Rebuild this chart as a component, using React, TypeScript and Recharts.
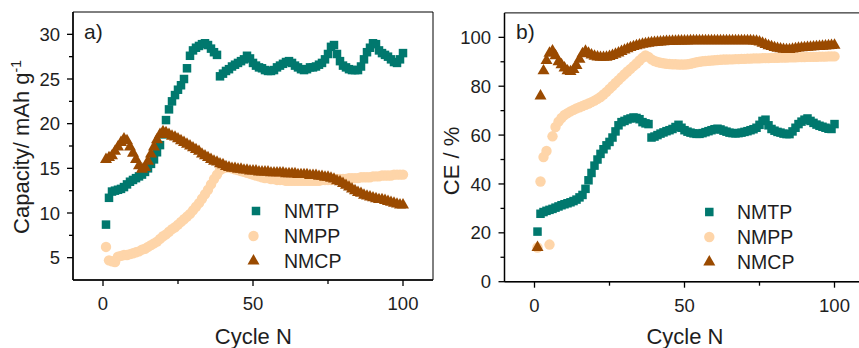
import React from 'react';
import { ScatterChart, Scatter, XAxis, YAxis, ReferenceArea } from 'recharts';

const cycles: number[] = Array.from({ length: 100 }, (_, i) => i + 1);

// Panel a) Capacity / mAh g-1
const capNMTP = [
  8.7, 11.7, 12.4, 12.5, 12.6, 12.7, 12.9, 13.2, 13.5, 13.7,
  13.9, 14.1, 14.3, 14.6, 15.0, 15.5, 16.0, 16.8, 17.6, 18.8,
  20.4, 21.6, 22.5, 23.2, 23.8, 24.3, 25.0, 26.2, 27.6, 28.2,
  28.5, 28.7, 28.9, 29.0, 28.8, 28.4, 28.0, 27.7, 25.3, 25.6,
  25.9, 26.1, 26.4, 26.6, 26.8, 27.0, 27.2, 27.6, 27.3, 26.8,
  26.5, 26.3, 26.2, 26.0, 25.9, 25.9, 26.0, 26.3, 26.5, 26.7,
  26.9, 27.0, 26.8, 26.5, 26.3, 26.1, 26.0, 26.1, 26.3, 26.3,
  26.4, 26.6, 26.8, 27.2, 27.8, 28.6, 28.8, 27.8, 27.0, 26.5,
  26.3, 26.1, 26.0, 26.0, 26.0, 26.4, 27.2, 28.0, 28.5, 29.0,
  28.9, 28.2, 27.9, 27.7, 27.5, 27.2, 26.9, 26.8, 27.2, 27.9,
];
const capNMPP = [
  6.2, 4.7, 4.6, 4.5, 5.1, 5.2, 5.3, 5.3, 5.4, 5.5,
  5.6, 5.7, 5.9, 6.0, 6.2, 6.4, 6.6, 6.8, 7.1, 7.4,
  7.6, 7.9, 8.2, 8.4, 8.7, 9.0, 9.3, 9.6, 9.9, 10.3,
  10.7, 11.1, 11.6, 12.1, 12.6, 13.2, 13.8, 14.3, 14.8, 15.0,
  15.1, 15.1, 15.0, 14.9, 14.8, 14.7, 14.6, 14.5, 14.4, 14.3,
  14.2, 14.1, 14.0, 13.9, 13.9, 13.8, 13.8, 13.7, 13.7, 13.7,
  13.6, 13.6, 13.6, 13.6, 13.6, 13.6, 13.6, 13.6, 13.6, 13.6,
  13.6, 13.6, 13.7, 13.7, 13.7, 13.7, 13.8, 13.8, 13.8, 13.8,
  13.8, 13.9, 13.9, 13.9, 13.9, 14.0, 14.0, 14.0, 14.0, 14.1,
  14.1, 14.1, 14.2, 14.2, 14.2, 14.2, 14.3, 14.3, 14.3, 14.3,
];
const capNMCP = [
  16.0, 16.2, 16.4, 16.9, 17.4, 17.9, 18.3, 18.1, 17.4, 16.7,
  16.0, 15.3, 14.9, 15.1, 15.8, 16.6, 17.4, 18.2, 18.8, 19.1,
  19.0, 18.8, 18.6, 18.5, 18.3, 18.1, 17.9, 17.7, 17.5, 17.3,
  17.1, 16.9, 16.6, 16.4, 16.2, 16.0, 15.8, 15.7, 15.5, 15.4,
  15.2, 15.1, 15.0, 15.0, 14.9, 14.9, 14.8, 14.8, 14.7, 14.7,
  14.7, 14.6, 14.6, 14.6, 14.6, 14.5, 14.5, 14.5, 14.5, 14.5,
  14.4, 14.4, 14.4, 14.4, 14.3, 14.3, 14.3, 14.3, 14.2, 14.2,
  14.2, 14.1, 14.1, 14.0, 14.0, 13.9, 13.8, 13.6, 13.5, 13.3,
  13.1, 12.9, 12.7, 12.5, 12.3, 12.2, 12.0, 11.9, 11.8, 11.7,
  11.6, 11.5, 11.5, 11.4, 11.3, 11.2, 11.1, 11.0, 10.9, 10.9,
];

// Panel b) CE / %
const ceNMTP = [
  20.5, 27.8, 28.5, 29.0, 29.4, 29.8, 30.3, 30.8, 31.3, 31.7,
  32.1, 32.5, 33.0, 33.6, 34.5, 35.5, 38.0, 41.5, 44.5, 47.5,
  50.0, 52.3, 54.2, 55.8, 57.2, 59.0, 61.5, 64.0, 65.3, 65.8,
  66.4, 66.8, 67.2, 67.0, 66.5, 65.3, 64.8, 64.5, 59.0, 59.4,
  60.0, 60.6, 61.1, 61.6, 62.0, 62.5, 63.3, 64.2, 63.0, 62.0,
  61.4, 61.0, 60.7, 60.5, 60.5, 60.8, 61.2, 61.6, 62.0, 62.4,
  62.6, 62.3, 61.8, 61.4, 61.0, 60.8, 60.7, 60.8, 61.0, 61.3,
  61.6, 62.0, 62.4, 63.0, 64.2, 65.8, 66.3, 64.0, 62.5, 61.8,
  61.3, 61.0, 60.6, 60.4, 60.4, 61.5, 63.0, 64.5, 65.5, 66.3,
  66.8, 65.8, 65.0, 64.3, 63.8, 63.4, 63.0, 62.6, 62.5, 64.5,
];
const ceNMPP = [
  14.0, 41.0, 51.0, 53.5, 15.2, 59.5, 63.3, 65.5, 67.0, 68.2,
  69.0, 69.7, 70.3, 70.9, 71.4, 71.9, 72.4, 72.9, 73.5, 74.1,
  74.8, 75.6, 76.6, 77.7, 78.9, 80.1, 81.3, 82.5, 83.7, 84.9,
  86.0, 87.1, 88.2, 89.3, 90.5, 91.7, 92.6, 92.0, 91.0, 90.3,
  89.9, 89.6, 89.4, 89.2, 89.1, 89.0, 89.0, 88.9, 88.9, 88.9,
  89.0, 89.2, 89.5, 89.8, 90.0, 90.2, 90.3, 90.4, 90.5, 90.6,
  90.7, 90.8, 90.9, 90.9, 91.0, 91.0, 91.1, 91.1, 91.2, 91.2,
  91.3, 91.3, 91.4, 91.4, 91.4, 91.5, 91.5, 91.5, 91.6, 91.6,
  91.6, 91.7, 91.7, 91.7, 91.8, 91.8, 91.8, 91.9, 91.9, 91.9,
  92.0, 92.0, 92.0, 92.0, 92.1, 92.1, 92.1, 92.2, 92.2, 92.2,
];
const ceNMCP = [
  14.0, 76.0, 86.3, 90.5, 93.5, 94.5, 92.5, 90.0, 88.8, 87.5,
  86.3, 86.0, 86.8, 88.5, 91.0, 93.3, 94.3, 93.5, 92.8, 92.3,
  92.0, 91.8, 91.8, 91.9, 92.2, 92.6, 93.1, 93.6, 94.2, 94.8,
  95.3, 95.8, 96.2, 96.6, 96.9, 97.2, 97.4, 97.6, 97.8, 97.9,
  98.0, 98.1, 98.2, 98.3, 98.3, 98.4, 98.4, 98.5, 98.5, 98.5,
  98.5, 98.6, 98.6, 98.6, 98.6, 98.6, 98.6, 98.6, 98.6, 98.6,
  98.6, 98.6, 98.6, 98.6, 98.6, 98.6, 98.6, 98.6, 98.6, 98.6,
  98.6, 98.6, 98.5, 98.4, 98.1, 97.6, 97.1, 96.6, 96.2, 95.8,
  95.5, 95.3, 95.1, 95.0, 95.0, 95.2, 95.4, 95.6, 95.7, 95.8,
  95.9, 96.0, 96.1, 96.2, 96.3, 96.4, 96.5, 96.6, 96.7, 96.8,
];

const seriesNames = ['NMTP', 'NMPP', 'NMCP'];
const xTicks = [0, 25, 50, 75, 100];
const xMajor = [0, 50, 100];
const capYTicks = [5, 7.5, 10, 12.5, 15, 17.5, 20, 22.5, 25, 27.5, 30];
const capYMajor = [5, 10, 15, 20, 25, 30];
const ceYTicks = [0, 10, 20, 30, 40, 50, 60, 70, 80, 90, 100];
const ceYMajor = [0, 20, 40, 60, 80, 100];

const TEAL = '#00786E';
const PEACH = '#FED5A9';
const BROWN = '#9A4A00';
const TXT = '#1e1e1e';
const FONT = '"Liberation Sans", Arial, Helvetica, sans-serif';

const toPoints = (vals: number[]) => vals.map((v, i) => ({ x: cycles[i], y: v }));

const SquareShape = (p: any) => (
  <rect x={p.cx - 4.25} y={p.cy - 4.25} width={8.5} height={8.5} fill={TEAL} />
);
const CircleShape = (p: any) => <circle cx={p.cx} cy={p.cy} r={5.2} fill={PEACH} />;
const TriShape = (p: any) => (
  <polygon
    points={`${p.cx},${p.cy - 6.9} ${p.cx - 6},${p.cy + 3.5} ${p.cx + 6},${p.cy + 3.5}`}
    fill={BROWN}
  />
);

const makeXTick = (majors: number[]) => (props: any) => {
  const { x, y, payload } = props;
  const major = majors.includes(payload.value);
  return (
    <g>
      <line x1={x} x2={x} y1={y} y2={y + (major ? 6 : 4)} stroke="#000" strokeWidth={1.3} />
      {major && (
        <text x={x} y={y + 30} textAnchor="middle" fontSize={18.5} fontFamily={FONT} fill={TXT}>
          {payload.value}
        </text>
      )}
    </g>
  );
};

const makeYTick = (majors: number[], gap: number) => (props: any) => {
  const { x, y, payload } = props;
  const major = majors.includes(payload.value);
  return (
    <g>
      <line x1={x - (major ? 6 : 4)} x2={x} y1={y} y2={y} stroke="#000" strokeWidth={1.3} />
      {major && (
        <text x={x - gap} y={y} dy="0.355em" textAnchor="end" fontSize={18.5} fontFamily={FONT} fill={TXT}>
          {payload.value}
        </text>
      )}
    </g>
  );
};

const axisLine = { stroke: '#000', strokeWidth: 1.5 };

const LegendBlock = ({ mx, tx, rows }: { mx: number[]; tx: number; rows: number[] }) => (
  <g fontFamily={FONT} fontSize={19.5} fill={TXT}>
    <rect x={mx[0] - 4.25} y={rows[0] - 4.25} width={8.5} height={8.5} fill={TEAL} />
    <circle cx={mx[1]} cy={rows[1]} r={5.2} fill={PEACH} />
    <polygon
      points={`${mx[2]},${rows[2] - 6.9} ${mx[2] - 6},${rows[2] + 3.5} ${mx[2] + 6},${rows[2] + 3.5}`}
      fill={BROWN}
    />
    {seriesNames.map((n, i) => (
      <text key={n} x={tx} y={rows[i] + 7} fill={TXT}>
        {n}
      </text>
    ))}
  </g>
);

export default function App() {
  return (
    <div
      style={{
        position: 'absolute',
        left: 0,
        top: 0,
        width: 859,
        height: 348,
        overflow: 'hidden',
        background: '#fff',
      }}
    >
      <div style={{ position: 'absolute', left: 0, top: 0 }}>
        <ScatterChart width={440} height={348} margin={{ top: 12, right: 7, bottom: 0, left: 0 }}>
          <XAxis
            type="number"
            dataKey="x"
            domain={[-10, 110]}
            ticks={xTicks}
            interval={0}
            tickSize={0}
            tickMargin={0}
            tickLine={false}
            tick={makeXTick(xMajor)}
            axisLine={axisLine}
            height={68}
            allowDataOverflow
          />
          <YAxis
            type="number"
            dataKey="y"
            domain={[2.5, 32.5]}
            ticks={capYTicks}
            interval={0}
            tickSize={0}
            tickMargin={0}
            tickLine={false}
            tick={makeYTick(capYMajor, 13)}
            axisLine={axisLine}
            width={73}
            allowDataOverflow
          />
          <ReferenceArea x1={-10} x2={110} y1={2.5} y2={32.5} fill="none" fillOpacity={0} stroke="#000" strokeWidth={1} />
          <Scatter name="NMTP" data={toPoints(capNMTP)} shape={SquareShape} isAnimationActive={false} />
          <Scatter name="NMPP" data={toPoints(capNMPP)} shape={CircleShape} isAnimationActive={false} />
          <Scatter name="NMCP" data={toPoints(capNMCP)} shape={TriShape} isAnimationActive={false} />
        </ScatterChart>
      </div>
      <div style={{ position: 'absolute', left: 430, top: 0 }}>
        <ScatterChart width={440} height={348} margin={{ top: 12.9, right: 5.5, bottom: 0, left: 0 }}>
          <XAxis
            type="number"
            dataKey="x"
            domain={[-10, 110]}
            ticks={xTicks}
            interval={0}
            tickSize={0}
            tickMargin={0}
            tickLine={false}
            tick={makeXTick(xMajor)}
            axisLine={axisLine}
            height={66.3}
            allowDataOverflow
          />
          <YAxis
            type="number"
            dataKey="y"
            domain={[0, 110]}
            ticks={ceYTicks}
            interval={0}
            tickSize={0}
            tickMargin={0}
            tickLine={false}
            tick={makeYTick(ceYMajor, 13.5)}
            axisLine={axisLine}
            width={74.5}
            allowDataOverflow
          />
          <ReferenceArea x1={-10} x2={110} y1={0} y2={110} fill="none" fillOpacity={0} stroke="#000" strokeWidth={1} />
          <Scatter name="NMTP" data={toPoints(ceNMTP)} shape={SquareShape} isAnimationActive={false} />
          <Scatter name="NMPP" data={toPoints(ceNMPP)} shape={CircleShape} isAnimationActive={false} />
          <Scatter name="NMCP" data={toPoints(ceNMCP)} shape={TriShape} isAnimationActive={false} />
        </ScatterChart>
      </div>
      <svg
        width={859}
        height={348}
        style={{ position: 'absolute', left: 0, top: 0, pointerEvents: 'none' }}
      >
        <g fontFamily={FONT} fill={TXT}>
          <text transform="translate(28.5,147) rotate(-90)" textAnchor="middle" fontSize={22}>
            Capacity/ mAh g<tspan dy={-8} fontSize={14}>-1</tspan>
          </text>
          <text transform="translate(459,161) rotate(-90)" textAnchor="middle" fontSize={22}>
            CE / %
          </text>
          <text x={253.3} y={344} textAnchor="middle" fontSize={22}>
            Cycle N
          </text>
          <text x={685} y={344} textAnchor="middle" fontSize={22}>
            Cycle N
          </text>
          <text x={84} y={38.5} fontSize={21}>
            a)
          </text>
          <text x={516} y={38.5} fontSize={21}>
            b)
          </text>
        </g>
        <LegendBlock mx={[256, 253.5, 253.5]} tx={284} rows={[211, 236, 261]} />
        <LegendBlock mx={[709.3, 709.3, 709.3]} tx={737} rows={[212, 237, 262]} />
      </svg>
    </div>
  );
}
